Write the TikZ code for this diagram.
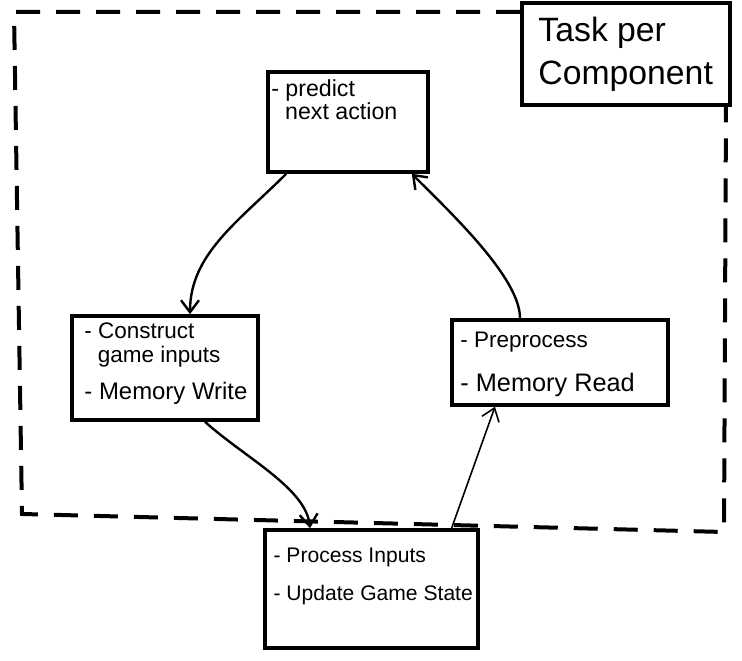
\documentclass[tikz,border=0pt]{standalone}
\usepackage{fontspec}
\setmainfont{Liberation Sans}
\usetikzlibrary{arrows.meta}
\tikzset{
	box/.style={draw, line width=0.9mm, inner sep=0pt},
	note/.style={anchor=north west, align=left, inner sep=0pt},
	flow/.style={line width=0.6mm, -{Straight Barb[length=3mm, width=4.5mm]}},
}

\begin{document}
\begin{tikzpicture}
			%%%%% START %%%%%
			
			\useasboundingbox (0, 0) rectangle (18.55, -16.525);
			
			\draw[line width=1mm, dash pattern=on 6mm off 4mm] (13.0, -0.3) -- (0.35, -0.3) -- (0.55, -12.85) -- (18.1, -13.3) -- (18.15, -2.65);
			
			\node[box, minimum width=5.2cm, minimum height=2.55cm] (task) at (15.65, -1.35) {};
			\node[note, font=\fontsize{24}{30}\selectfont] (task-t) at ([shift={(0.45,-0.4)}]task.north west) {Task per\\Component};
			
			\node[box, minimum width=4cm, minimum height=2.5cm] (predict) at (8.7, -3.05) {};
			\node[note, font=\fontsize{16.5}{17}\selectfont] (predict-t) at ([shift={(0.12,-0.22)}]predict.north west) {- predict\\\hspace*{0.6em}next action};
			
			\node[box, minimum width=4.65cm, minimum height=2.6cm] (construct) at (4.125, -9.2) {};
			\node[note, font=\fontsize{16}{16.5}\selectfont] (construct-t) at ([shift={(0.35,-0.22)}]construct.north west) {- Construct\\\hspace*{0.6em}game inputs\\[10pt]\fontsize{17}{18}\selectfont - Memory Write};
			
			\node[box, minimum width=5.4cm, minimum height=2.125cm] (preprocess) at (14, -9.06) {};
			\node[note, font=\fontsize{16}{17}\selectfont] (preprocess-t) at ([shift={(0.25,-0.35)}]preprocess.north west) {- Preprocess\\[14pt]\fontsize{18}{20}\selectfont - Memory Read};
			
			\node[box, minimum width=5.325cm, minimum height=2.95cm] (process) at (9.29, -14.725) {};
			\node[note, font=\fontsize{15}{19}\selectfont] (process-t) at ([shift={(0.25,-0.5)}]process.north west) {- Process Inputs\\[8pt]- Update Game State};
			
			\draw[flow] ([xshift=0.5cm]predict.south west) .. controls +(-1.2, -1.2) and +(0, 1.5) .. ([xshift=0.625cm]construct.north);
			\draw[flow] ([xshift=1cm]construct.south) .. controls +(1, -0.9) and +(-0.1, 1) .. ([xshift=-1.54cm]process.north);
			\draw[line width=0.4mm, -{Straight Barb[length=3mm, width=4.5mm]}] ([xshift=2cm]process.north) -- ([xshift=-1.625cm]preprocess.south);
			\draw[flow] ([xshift=-1cm]preprocess.north) .. controls +(0, 1) and +(1, -1) .. ([xshift=-0.45cm]predict.south east);
			
			%%%%% END %%%%%
		\end{tikzpicture}
\end{document}
